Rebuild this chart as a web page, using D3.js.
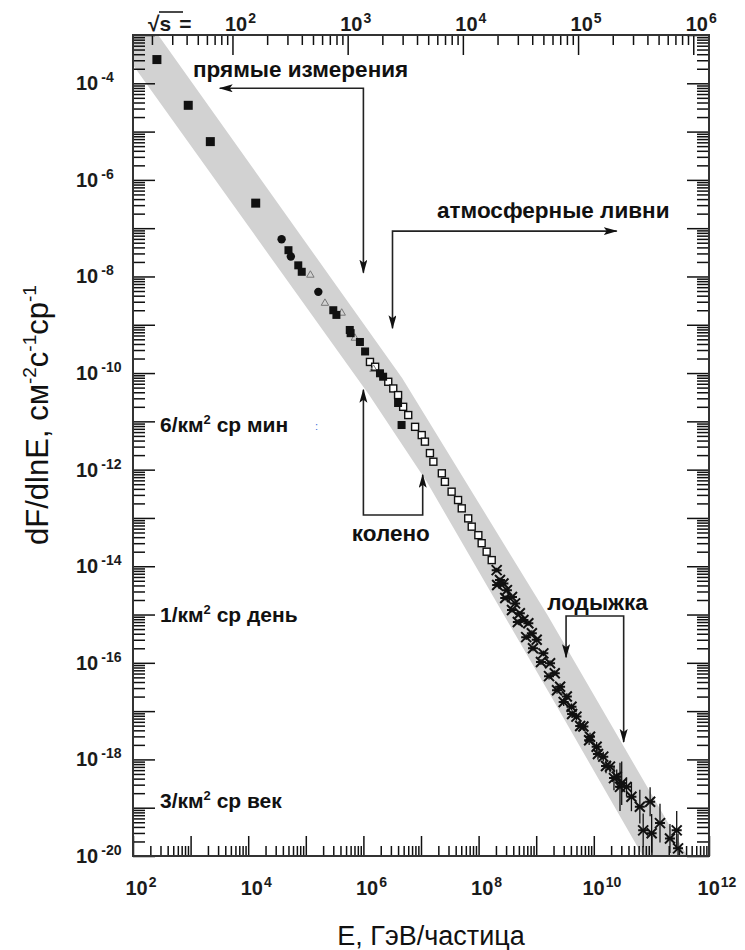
<!DOCTYPE html>
<html>
<head>
<meta charset="utf-8">
<script src="https://cdn.jsdelivr.net/npm/d3@7"></script>
<style>
  body { margin: 0; background: #fff; }
  svg { font-family: "Liberation Sans", Arial, sans-serif; }
</style>
</head>
<body>
<svg id="chart" width="745" height="950"></svg>
<script>
// direct measurements (big filled squares)
const directE = [2.6e2, 9.1e2, 2.2e3, 1.35e4];
const directF = [3.1e-4, 3.5e-5, 6.2e-6, 3.3e-7];

// filled circles
const circleE = [3.8e4, 5.5e4, 1.65e5];
const circleF = [5.9e-8, 2.6e-8, 4.8e-9];

// small filled squares
const fsqE = [5.0e4, 7.4e4, 8.5e4, 3.0e5, 3.4e5, 5.8e5, 6.0e5, 8.7e5, 1.07e6, 1.94e6, 2.2e6, 4.0e6, 4.6e6];
const fsqF = [3.5e-8, 1.7e-8, 1.25e-8, 2.0e-9, 1.6e-9, 7.8e-10, 6.7e-10, 4.4e-10, 2.8e-10, 9.9e-11, 8.4e-11, 2.4e-11, 8.4e-12];

// small grey open triangles
const triE = [1.2e5, 2.15e5, 4.2e5, 7.1e5, 1.5e6];
const triF = [1.07e-8, 2.8e-9, 1.75e-9, 5.3e-10, 1.2e-10];

// open squares (air showers)
const osqE = [1.3e6, 1.6e6, 2.7e6, 3.3e6, 4.0e6, 4.9e6, 6.0e6, 7.9e6, 1.03e7, 1.17e7, 1.43e7, 1.64e7,
  2.3e7, 2.6e7, 3.4e7, 4.4e7, 5.1e7, 6.6e7, 7.6e7, 9.9e7, 1.13e8, 1.38e8, 1.69e8];
const osqF = [1.7e-10, 1.35e-10, 6.6e-11, 4.8e-11, 3.5e-11, 2.0e-11, 1.35e-11, 7.7e-12, 5.2e-12, 3.8e-12, 2.2e-12, 1.46e-12,
  8.4e-13, 5.6e-13, 3.5e-13, 2.35e-13, 1.58e-13, 9.8e-14, 6.6e-14, 4.4e-14, 3.0e-14, 2.0e-14, 1.34e-14];

// crosses with error bars (two experiments)
const starAE = [2.06e8, 2.35e8, 2.7e8, 3.1e8, 3.8e8, 4.3e8, 5.2e8, 6.0e8, 7.3e8, 8.4e8, 1.02e9, 1.33e9, 1.74e9, 2.1e9,
  2.6e9, 3.4e9, 4.1e9, 5.0e9, 6.6e9, 8.6e9, 1.12e10, 1.46e10, 1.91e10, 2.5e10, 3.05e10, 3.7e10, 4.5e10, 6.3e10,
  9.5e10, 1.41e11, 2.75e11];
const starAF = [8.3e-15, 5.2e-15, 4.4e-15, 3.2e-15, 2.3e-15, 1.7e-15, 1.06e-15, 7.7e-16, 6.6e-16, 4.1e-16, 3.0e-16,
  1.57e-16, 9.8e-17, 6.1e-17, 3.2e-17, 2.0e-17, 1.23e-17, 7.7e-18, 4.8e-18, 2.95e-18, 1.83e-18, 1.14e-18, 7.1e-19,
  4.4e-19, 3.2e-19, 2.7e-19, 1.69e-19, 1.05e-19, 1.33e-19, 4.8e-20, 3.4e-20];
const starAErr = [0.05, 0.05, 0.05, 0.05, 0.05, 0.05, 0.05, 0.05, 0.05, 0.06, 0.06, 0.06, 0.06, 0.06,
  0.07, 0.07, 0.07, 0.08, 0.08, 0.08, 0.1, 0.1, 0.12, 0.15, 0.45, 0.2, 0.3, 0.35, 0.3, 0.4, 0.4];

const starBE = [2.1e8, 2.9e8, 3.8e8, 4.8e8, 6.7e8, 8.8e8, 1.21e9, 1.67e9, 2.3e9, 3.0e9, 4.2e9, 5.8e9, 8.3e9,
  1.18e10, 1.63e10, 2.24e10, 2.85e10, 7.2e10, 1.01e11, 2.1e11, 2.9e11];
const starBF = [4.1e-15, 2.2e-15, 1.24e-15, 7.0e-16, 3.4e-16, 2.0e-16, 1.04e-16, 5.3e-17, 2.7e-17, 1.54e-17, 8.7e-18,
  4.9e-18, 2.5e-18, 1.29e-18, 7.3e-19, 4.1e-19, 2.7e-19, 3.4e-20, 2.95e-20, 2.3e-20, 1.44e-20];
const starBErr = [0.05, 0.05, 0.05, 0.05, 0.06, 0.06, 0.06, 0.07, 0.07, 0.08, 0.08, 0.1, 0.1,
  0.12, 0.15, 0.25, 0.5, 0.35, 0.4, 0.3, 0.3];

// grey band edges
const bandUpperE = [1e2, 4.7e6, 1.55e9, 4.2e11];
const bandUpperF = [5.4e-3, 7.9e-11, 1e-15, 1e-20];
const bandLowerE = [1e2, 1.26e6, 1.26e7, 1.74e9, 7.1e10];
const bandLowerF = [2.4e-4, 3.5e-11, 5.6e-13, 2.2e-17, 1e-20];

// tick labels
const xLabelExp = [2, 4, 6, 8, 10, 12];
const yLabelExp = [-4, -6, -8, -10, -12, -14, -16, -18, -20];
const topLabelExp = [2, 3, 4, 5, 6];

// flux reference levels: 6/km2 sr min, 1/km2 sr day, 3/km2 sr century
const rateText = ['6/км', '1/км', '3/км'];
const rateTail = [' ср мин', ' ср день', ' ср век'];
const rateF = [6 / (1e10 * 60), 1 / (1e10 * 86400), 3 / (1e10 * 3.156e9)];
const rateDy = [11, 11, -1];

const svg = d3.select('#chart');
const L = 133, R = 709, T = 35, B = 856;

const x = d3.scaleLog().domain([1e2, 1e12]).range([L, R]);
const y = d3.scaleLog().domain([1e-20, 1e-3]).range([B, T]);
const sqrtS = e => Math.sqrt(2 * 0.938 * e);
const xs = d3.scaleLog().domain([sqrtS(1e2), sqrtS(1e12)]).range([L, R]);

function logTicks(scale, lo, hi) {
  const dom = scale.domain();
  const inside = v => v >= dom[0] * 0.999 && v <= dom[1] * 1.001;
  const major = [], minor = [];
  for (let d = lo; d <= hi; d++) {
    major.push(Math.pow(10, d));
    for (let k = 2; k <= 9; k++) minor.push(k * Math.pow(10, d));
  }
  return { major: major.filter(inside), minor: minor.filter(inside) };
}

svg.append('defs').append('clipPath').attr('id', 'plot')
  .append('rect').attr('x', L).attr('y', T).attr('width', R - L).attr('height', B - T);

const plot = svg.append('g').attr('clip-path', 'url(#plot)');

// band
const bandPts = bandUpperE.map((e, i) => [e, bandUpperF[i]])
  .concat(bandLowerE.map((e, i) => [e, bandLowerF[i]]).reverse());
plot.append('path')
  .attr('d', d3.line().x(d => x(d[0])).y(d => y(d[1]))(bandPts) + 'Z')
  .attr('fill', '#d2d2d2');

// crosses with error bars
function drawStars(E, F, err) {
  const g = plot.append('g').attr('stroke', '#111').attr('fill', 'none');
  E.forEach((e, i) => {
    const px = x(e), py = y(F[i]);
    g.append('line')
      .attr('x1', px).attr('x2', px)
      .attr('y1', y(F[i] * Math.pow(10, err[i]))).attr('y2', y(F[i] / Math.pow(10, err[i])))
      .attr('stroke-width', 1.3);
    g.append('path')
      .attr('d', `M${px - 5},${py - 5}L${px + 5},${py + 5}M${px - 5},${py + 5}L${px + 5},${py - 5}M${px - 5},${py}L${px + 5},${py}`)
      .attr('stroke-width', 2);
  });
}
drawStars(starBE, starBF, starBErr);
drawStars(starAE, starAF, starAErr);

// open squares
plot.append('g').selectAll('rect')
  .data(osqE.map((e, i) => [e, osqF[i]]))
  .enter().append('rect')
  .attr('x', d => x(d[0]) - 3.5).attr('y', d => y(d[1]) - 3.5)
  .attr('width', 7).attr('height', 7)
  .attr('fill', '#fff').attr('stroke', '#111').attr('stroke-width', 1.4);

// grey triangles
plot.append('g').selectAll('path')
  .data(triE.map((e, i) => [e, triF[i]]))
  .enter().append('path')
  .attr('transform', d => `translate(${x(d[0])},${y(d[1])})`)
  .attr('d', d3.symbol(d3.symbolTriangle, 24))
  .attr('fill', 'none').attr('stroke', '#777').attr('stroke-width', 1);

// small filled squares
plot.append('g').selectAll('rect')
  .data(fsqE.map((e, i) => [e, fsqF[i]]))
  .enter().append('rect')
  .attr('x', d => x(d[0]) - 4).attr('y', d => y(d[1]) - 4)
  .attr('width', 8).attr('height', 8)
  .attr('fill', '#111');

// filled circles
plot.append('g').selectAll('circle')
  .data(circleE.map((e, i) => [e, circleF[i]]))
  .enter().append('circle')
  .attr('cx', d => x(d[0])).attr('cy', d => y(d[1]))
  .attr('r', 4.2).attr('fill', '#111');

// direct measurements
plot.append('g').selectAll('rect')
  .data(directE.map((e, i) => [e, directF[i]]))
  .enter().append('rect')
  .attr('x', d => x(d[0]) - 4.5).attr('y', d => y(d[1]) - 4.5)
  .attr('width', 9).attr('height', 9)
  .attr('fill', '#111');

// axes ticks (inward)
const yt = logTicks(y, -20, -3);
const xt = logTicks(x, 2, 12);
const st = logTicks(xs, 1, 6);

function tickAxis(axis, tr, values, size) {
  const g = svg.append('g').attr('transform', tr)
    .call(axis.tickValues(values).tickSize(size).tickSizeOuter(0).tickFormat(''));
  g.select('.domain').remove();
  g.selectAll('line').attr('stroke', '#111').attr('stroke-width', 1.5);
}
tickAxis(d3.axisLeft(y), `translate(${L},0)`, yt.major, -22);
tickAxis(d3.axisLeft(y), `translate(${L},0)`, yt.minor, -12);
tickAxis(d3.axisRight(y), `translate(${R},0)`, yt.major, -22);
tickAxis(d3.axisRight(y), `translate(${R},0)`, yt.minor, -12);
tickAxis(d3.axisBottom(x), `translate(0,${B})`, xt.major, -20);
tickAxis(d3.axisBottom(x), `translate(0,${B})`, xt.minor, -10);
tickAxis(d3.axisTop(xs), `translate(0,${T})`, st.major, -20);
tickAxis(d3.axisTop(xs), `translate(0,${T})`, st.minor, -10);

svg.append('rect')
  .attr('x', L).attr('y', T).attr('width', R - L).attr('height', B - T)
  .attr('fill', 'none').attr('stroke', '#333').attr('stroke-width', 2);

// power-of-ten labels
function tenPow(px, py, exp, anchor) {
  const t = svg.append('text')
    .attr('x', px).attr('y', py)
    .attr('text-anchor', anchor)
    .attr('font-weight', 'bold').attr('font-size', 20)
    .attr('fill', '#1b1b1b');
  t.append('tspan').text('10');
  t.append('tspan').attr('dx', exp < 0 ? 3 : 1).attr('dy', -8)
    .attr('font-size', 14).text(exp);
}
yLabelExp.forEach(d => tenPow(76, y(Math.pow(10, d)) + 7, d, 'start'));
xLabelExp.forEach(d => tenPow(x(Math.pow(10, d)) + 8, 895, d, 'middle'));
topLabelExp.forEach(d => tenPow(xs(Math.pow(10, d)) + 8, 31, d, 'middle'));

// sqrt(s) =
const sq = svg.append('text').attr('x', 148).attr('y', 31)
  .attr('font-weight', 'bold').attr('font-size', 21).attr('fill', '#1b1b1b');
sq.append('tspan').text('√s');
sq.append('tspan').attr('dx', 8).text('=');
svg.append('line').attr('x1', 159).attr('x2', 183).attr('y1', 12).attr('y2', 12)
  .attr('stroke', '#1b1b1b').attr('stroke-width', 1.6);

// axis titles
svg.append('text')
  .attr('x', 431).attr('y', 945)
  .attr('text-anchor', 'middle').attr('font-size', 27).attr('fill', '#111')
  .text('E, ГэВ/частица');

const yt1 = svg.append('text')
  .attr('transform', 'translate(48,415) rotate(-90)')
  .attr('text-anchor', 'middle').attr('font-size', 31).attr('fill', '#111');
yt1.append('tspan').text('dF/dlnE, см');
yt1.append('tspan').attr('dy', -12).attr('font-size', 19).text('-2');
yt1.append('tspan').attr('dy', 12).text('с');
yt1.append('tspan').attr('dy', -12).attr('font-size', 19).text('-1');
yt1.append('tspan').attr('dy', 12).text('ср');
yt1.append('tspan').attr('dy', -12).attr('font-size', 19).text('-1');

// rate labels
rateF.forEach((f, i) => {
  const t = svg.append('text')
    .attr('x', 160).attr('y', y(f) + rateDy[i])
    .attr('font-weight', 'bold').attr('font-size', 21).attr('fill', '#111');
  t.append('tspan').text(rateText[i]);
  t.append('tspan').attr('dy', -8).attr('font-size', 13).text('2');
  t.append('tspan').attr('dy', 8).text(rateTail[i]);
});
svg.append('text').attr('x', 315).attr('y', y(rateF[0]) + 9)
  .attr('font-size', 11).attr('fill', '#3a6fd8').text(':');

// annotations
svg.select('defs').append('marker')
  .attr('id', 'arr').attr('markerUnits', 'userSpaceOnUse')
  .attr('markerWidth', 14).attr('markerHeight', 10)
  .attr('refX', 13).attr('refY', 4).attr('orient', 'auto-start-reverse')
  .append('path').attr('d', 'M0,0L14,4L0,8L3,4Z').attr('fill', '#111');

const arrows = [
  [[3.2e3, 7.9e-5], [1e6, 7.9e-5], [1e6, 1.2e-8]],
  [[2.5e10, 8.7e-8], [3.2e6, 8.7e-8], [3.2e6, 8.5e-10]],
  [[1e6, 4.5e-11], [1e6, 1.15e-13], [1.07e7, 1.15e-13], [1.07e7, 7.8e-13]],
  [[3.3e9, 1.3e-16], [3.3e9, 9.3e-16], [3.3e10, 9.3e-16], [3.3e10, 2.3e-18]]
];
arrows.forEach(a => {
  svg.append('path')
    .attr('d', d3.line().x(d => x(d[0])).y(d => y(d[1]))(a))
    .attr('fill', 'none').attr('stroke', '#222').attr('stroke-width', 1.6)
    .attr('marker-start', 'url(#arr)').attr('marker-end', 'url(#arr)');
});

const notes = [
  ['прямые измерения', 1.1e3, 1.35e-4],
  ['атмосферные ливни', 1.9e7, 1.6e-7],
  ['колено', 6.3e5, 3.3e-14],
  ['лодыжка', 1.55e9, 1.23e-15]
];
notes.forEach(n => {
  svg.append('text')
    .attr('x', x(n[1])).attr('y', y(n[2]))
    .attr('font-weight', 'bold').attr('font-size', 22.5).attr('fill', '#111')
    .text(n[0]);
});
</script>
</body>
</html>
